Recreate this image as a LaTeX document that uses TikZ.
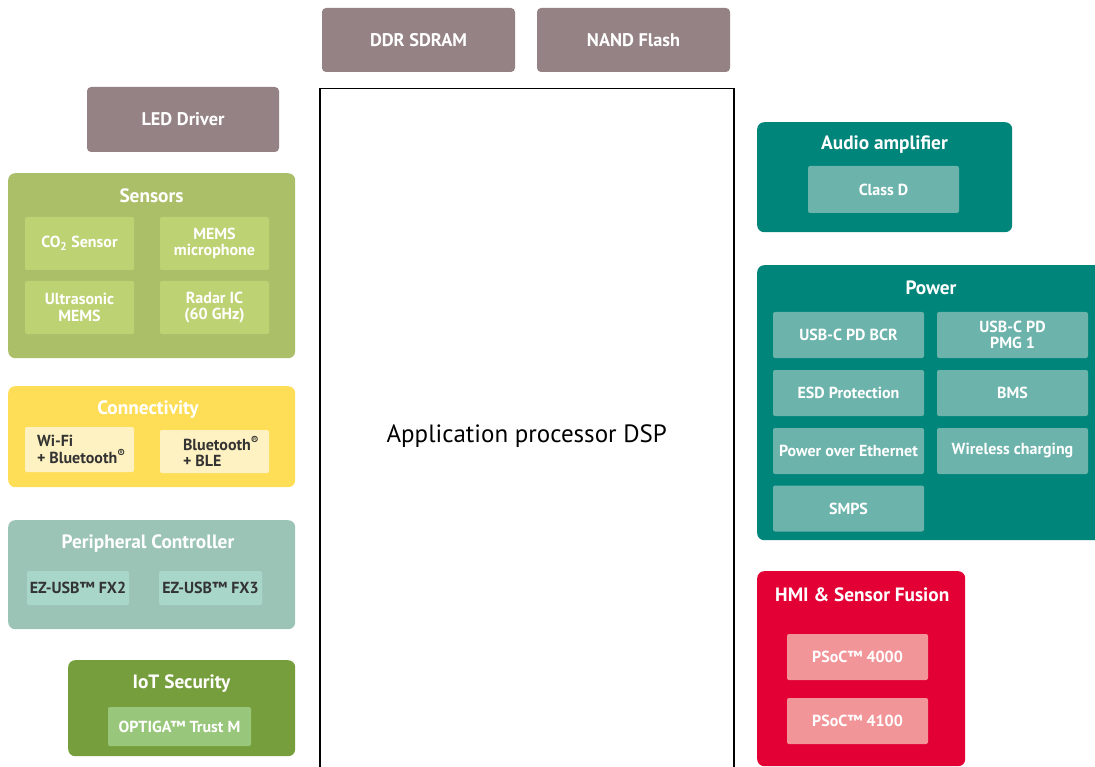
\documentclass[tikz,border=0pt]{standalone}
\usepackage{fontspec}
\setmainfont{PT Sans}
\usepackage{tikz}
\usetikzlibrary{positioning}
\definecolor{mauve}{HTML}{958285}
\definecolor{sensbg}{HTML}{ABBF69}
\definecolor{sensin}{HTML}{BDD273}
\definecolor{connbg}{HTML}{FFDE57}
\definecolor{connin}{HTML}{FFF2C2}
\definecolor{perbg}{HTML}{9BC4B7}
\definecolor{perin}{HTML}{A8D6C8}
\definecolor{iotbg}{HTML}{779E3C}
\definecolor{iotin}{HTML}{98C67A}
\definecolor{teal}{HTML}{00857A}
\definecolor{tealin}{HTML}{6CB3AC}
\definecolor{hmibg}{HTML}{E30034}
\definecolor{hmiin}{HTML}{F29599}
\definecolor{ink}{HTML}{333333}

\begin{document}
\begin{tikzpicture}[x=1pt,y=-1pt, every node/.style={inner sep=0pt,font=\bfseries\fontsize{16}{16.5}\selectfont,text=white,align=center}, mem/.style={fill=mauve,rounded corners=4pt,minimum width=193,minimum height=64,font=\bfseries\fontsize{18.3}{20}\selectfont}, grp/.style={rounded corners=7pt,anchor=north west}, ttl/.style={font=\bfseries\fontsize{19.3}{21}\selectfont}, part/.style={rounded corners=2pt,minimum width=109,minimum height=53}, cpu/.style={draw=black,line width=1.5pt,fill=white,anchor=north west,minimum width=414,minimum height=694,text=black,font=\fontsize{25}{28}\selectfont}]
\useasboundingbox (0,0) rectangle (1095,767);
% memory and processor
\node[mem] (ddr) at (418.5,40) {DDR SDRAM};
\node[mem] (nand) at (633.5,40) {NAND Flash};
\node[mem,minimum width=192,minimum height=65] (led) at (183,119.5) {LED Driver};
\node[cpu] (ap) at (319,88) {Application processor DSP};
% left column
\node[grp,fill=sensbg,minimum width=287,minimum height=185] (sensors) at (8,173) {};
\node[ttl] (sensorsT) at (151.5,196) {Sensors};
\node[part,fill=sensin] (co2) at (79.5,243.5) {CO\textsubscript{2} Sensor};
\node[part,fill=sensin] (mic) at (214.5,243.5) {MEMS\\microphone};
\node[part,fill=sensin] (ultra) at (79.5,307.5) {Ultrasonic\\MEMS};
\node[part,fill=sensin] (radar) at (214.5,307.5) {Radar IC\\(60 GHz)};
\node[grp,fill=connbg,minimum width=287,minimum height=101] (conn) at (8,386) {};
\node[ttl] (connT) at (148,410) {Connectivity};
\node[part,fill=connin,minimum height=45] (wifi) at (79.5,449.5) {};
\node[text=ink,align=left,right=12pt of wifi.west] (wifiT) {Wi-Fi\\+ Bluetooth\textsuperscript{®}};
\node[part,fill=connin,minimum height=43] (ble) at (214.5,451.5) {};
\node[text=ink,align=left,right=23pt of ble.west] (bleT) {Bluetooth\textsuperscript{®}\\+ BLE};
\node[grp,fill=perbg,minimum width=287,minimum height=109] (periph) at (8,520) {};
\node[ttl] (periphT) at (148,544) {Peripheral Controller};
\node[part,fill=perin,text=ink,minimum width=102,minimum height=34] (fx2) at (78,588) {EZ-USB™ FX2};
\node[part,fill=perin,text=ink,minimum width=103,minimum height=34] (fx3) at (210.5,588) {EZ-USB™ FX3};
\node[grp,fill=iotbg,minimum width=227,minimum height=96] (iot) at (68,660) {};
\node[ttl] (iotT) at (181.5,684) {IoT Security};
\node[part,fill=iotin,minimum width=143,minimum height=39] (optiga) at (179.5,726.5) {OPTIGA™ Trust M};
% right column
\node[grp,fill=teal,minimum width=255,minimum height=110] (audio) at (757,122) {};
\node[ttl] (audioT) at (884.5,145) {Audio amplifier};
\node[part,fill=tealin,minimum width=151,minimum height=47] (classd) at (883.5,189.5) {Class D};
\node[grp,fill=teal,minimum width=345,minimum height=275] (power) at (757,265) {};
\node[ttl] (powerT) at (931,288) {Power};
\foreach \name/\x/\y/\txt in {bcr/848.5/335/USB-C PD BCR, pmg/1012.5/335/{USB-C PD\\PMG 1}, esd/848.5/393/ESD Protection, bms/1012.5/393/BMS, poe/848.5/451/Power over Ethernet, wlc/1012.5/451/Wireless charging, smps/848.5/508.5/SMPS}
  \node[part,fill=tealin,minimum width=151,minimum height=46] (\name) at (\x,\y) {\txt};
\node[grp,fill=hmibg,minimum width=208,minimum height=195] (hmi) at (757,571) {};
\node[ttl,anchor=west] (hmiT) at (775,595) {HMI \& Sensor Fusion};
\node[part,fill=hmiin,minimum width=141,minimum height=46] (psoc40) at (857.5,657) {PSoC™ 4000};
\node[part,fill=hmiin,minimum width=141,minimum height=46] (psoc41) at (857.5,721) {PSoC™ 4100};
\end{tikzpicture}
\end{document}
